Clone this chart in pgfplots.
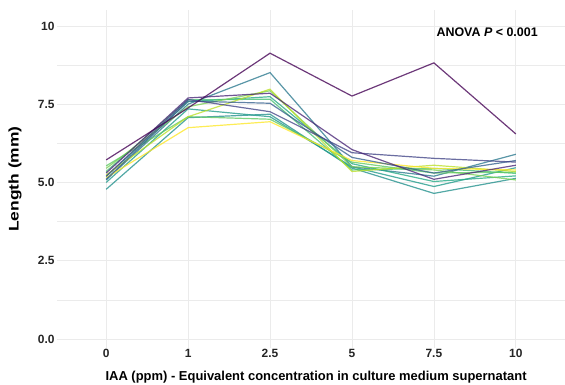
\documentclass[border=0pt]{standalone}
\usepackage{pgfplots}
\pgfplotsset{compat=1.18}
\usepackage{fontspec}
\setmainfont{Liberation Sans}
\definecolor{v1}{HTML}{440154}
\definecolor{v2}{HTML}{482576}
\definecolor{v3}{HTML}{414487}
\definecolor{v4}{HTML}{35608D}
\definecolor{v5}{HTML}{2A788E}
\definecolor{v6}{HTML}{21908C}
\definecolor{v7}{HTML}{22A884}
\definecolor{v8}{HTML}{43BF71}
\definecolor{v9}{HTML}{7AD151}
\definecolor{v10}{HTML}{BBDF27}
\definecolor{v11}{HTML}{FDE725}
\definecolor{v12}{HTML}{1F9A8A}
\definecolor{v13}{HTML}{5EC962}
\definecolor{gridc}{HTML}{EBEBEB}
\begin{document}
\begin{tikzpicture}[x=1bp,y=1bp]
\path[use as bounding box] (0,0) rectangle (565,384);
\begin{axis}[
  at={(57bp,36bp)}, anchor=south west,
  width=508bp, height=338bp, scale only axis,
  xmin=-0.6, xmax=5.6, ymin=-0.29, ymax=10.51,
  axis line style={draw=none},
  major tick length=0pt, minor tick length=0pt,
  xtick={0,1,2,3,4,5},
  xticklabels={0,1,2.5,5,7.5,10},
  ytick={0,2.5,5,7.5,10},
  yticklabels={0.0,2.5,5.0,7.5,10},
  minor ytick={1.25,3.75,6.25,8.75},
  grid=both,
  major grid style={draw=gridc, line width=0.8bp},
  minor grid style={draw=gridc, line width=0.5bp},
  /pgf/number format/assume math mode=true,
  tick label style={font=\bfseries\fontsize{12}{14}\selectfont, text=black!85},
  xticklabel style={yshift=2bp},
  yticklabel style={xshift=1bp},
  xlabel={\bfseries IAA (ppm) - Equivalent concentration in culture medium supernatant},
  ylabel={\scalebox{1.25}[1]{\bfseries Length (mm)}},
  label style={font=\bfseries\fontsize{13}{15}\selectfont, text=black},
  xlabel style={at={(axis description cs:0.51,-0.0858)}, anchor=center},
  ylabel style={at={(axis description cs:-0.0827,0.5)}, anchor=center, font=\bfseries\fontsize{14}{16}\selectfont},
  every axis plot/.append style={line width=1.2bp, opacity=0.78, mark=none},
]
\addplot[v6]  coordinates {(0,4.78) (1,7.07) (2,7.18) (3,5.46) (4,4.65) (5,5.13)};
\addplot[v12] coordinates {(0,5.00) (1,7.35) (2,7.10) (3,5.50) (4,4.87) (5,5.47)};
\addplot[v5]  coordinates {(0,5.08) (1,7.50) (2,8.51) (3,5.50) (4,5.20) (5,5.90)};
\addplot[v7]  coordinates {(0,5.19) (1,7.58) (2,7.74) (3,5.60) (4,5.03) (5,5.21)};
\addplot[v8]  coordinates {(0,5.35) (1,7.64) (2,7.66) (3,5.40) (4,5.45) (5,5.29)};
\addplot[v9]  coordinates {(0,5.45) (1,7.42) (2,7.93) (3,5.50) (4,5.40) (5,5.08)};
\addplot[v13] coordinates {(0,5.53) (1,7.10) (2,7.02) (3,5.65) (4,5.30) (5,5.33)};
\addplot[v10] coordinates {(0,5.24) (1,7.10) (2,7.98) (3,5.35) (4,5.55) (5,5.35)};
\addplot[v11] coordinates {(0,5.15) (1,6.75) (2,6.94) (3,5.70) (4,5.45) (5,5.40)};
\addplot[v4]  coordinates {(0,5.10) (1,7.60) (2,7.53) (3,5.80) (4,5.30) (5,5.70)};
\addplot[v3]  coordinates {(0,5.20) (1,7.65) (2,7.26) (3,5.95) (4,5.77) (5,5.65)};
\addplot[v2]  coordinates {(0,5.30) (1,7.70) (2,7.85) (3,6.05) (4,5.10) (5,5.55)};
\addplot[v1]  coordinates {(0,5.72) (1,7.38) (2,9.13) (3,7.76) (4,8.82) (5,6.55)};
\node[anchor=east, font=\bfseries\fontsize{12.5}{14}\selectfont, text=black] at (axis cs:5.31,9.81) {ANOVA \textit{P} < 0.001};
\end{axis}
\end{tikzpicture}
\end{document}
